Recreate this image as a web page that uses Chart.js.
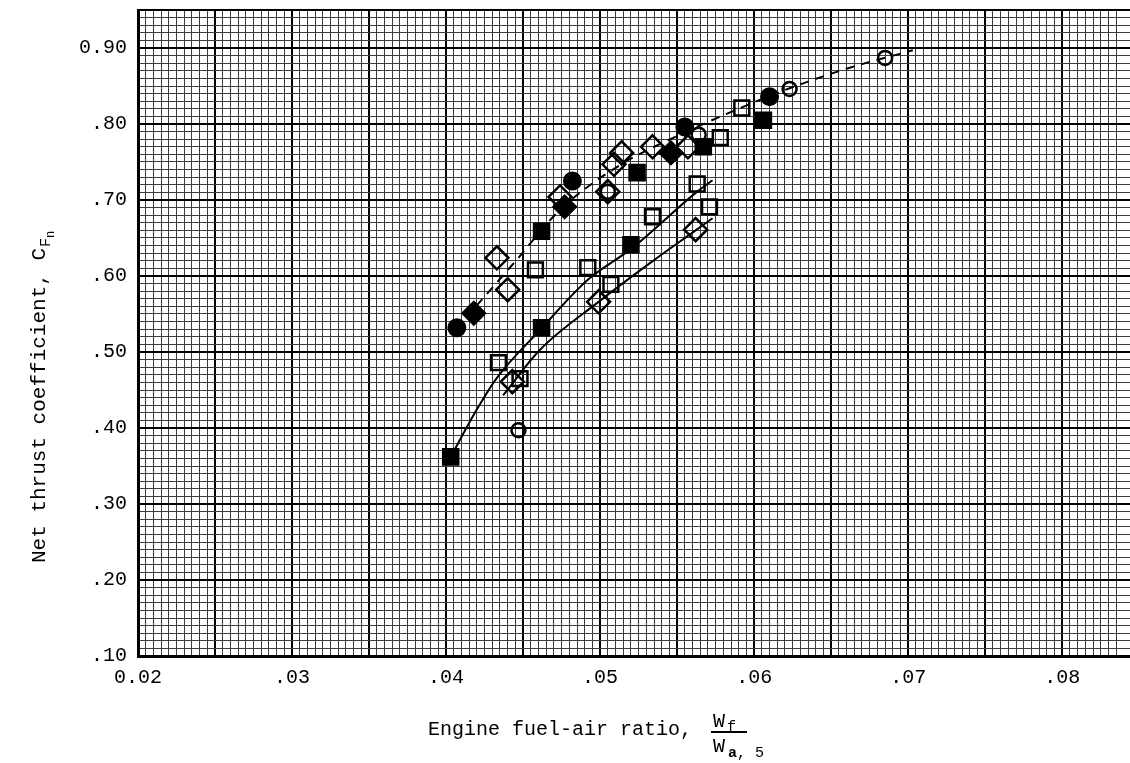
<!DOCTYPE html>
<html>
<head>
<meta charset="utf-8">
<script src="https://cdn.jsdelivr.net/npm/chart.js@4.4.0/dist/chart.umd.min.js"></script>
<style>
  html, body { margin: 0; padding: 0; background: #fff; }
</style>
</head>
<body>
<canvas id="thrust" width="1130" height="763"></canvas>
<script>
// graph paper limits
const xMin = 0.02, xMax = 0.0844;
const yMin = 0.10, yMax = 0.95;

// solid circles
const solidCircleX = [0.0407, 0.0482, 0.0555, 0.0610];
const solidCircleY = [0.532, 0.725, 0.796, 0.836];

// solid diamonds
const solidDiamondX = [0.0418, 0.0477, 0.0546];
const solidDiamondY = [0.551, 0.691, 0.762];

// solid squares
const solidSquareX = [0.0403, 0.0462, 0.0462, 0.0520, 0.0524, 0.0567, 0.0606];
const solidSquareY = [0.362, 0.532, 0.659, 0.641, 0.736, 0.770, 0.805];

// open squares
const openSquareX = [0.0434, 0.0448, 0.0458, 0.0492, 0.0507, 0.0534, 0.0563, 0.0571, 0.0578, 0.0592];
const openSquareY = [0.486, 0.465, 0.608, 0.611, 0.589, 0.678, 0.721, 0.691, 0.782, 0.821];

// open diamonds
const openDiamondX = [0.0433, 0.0440, 0.0443, 0.0474, 0.0499, 0.0505, 0.0509, 0.0514, 0.0534, 0.0557, 0.0562];
const openDiamondY = [0.624, 0.582, 0.461, 0.704, 0.566, 0.711, 0.747, 0.762, 0.770, 0.770, 0.661];

// open circles
const openCircleX = [0.0447, 0.0505, 0.0564, 0.0623, 0.0685];
const openCircleY = [0.397, 0.711, 0.786, 0.846, 0.887];

// faired curves
const upperCurveX = [0.0403, 0.0419, 0.0433, 0.0461, 0.0492, 0.0521, 0.0563, 0.0573];
const upperCurveY = [0.362, 0.421, 0.466, 0.529, 0.595, 0.637, 0.711, 0.726];
const lowerCurveX = [0.0437, 0.0461, 0.0499, 0.0533, 0.0562, 0.0573];
const lowerCurveY = [0.443, 0.503, 0.566, 0.618, 0.660, 0.676];
const dashCurveX = [0.0406, 0.0444, 0.0474, 0.0513, 0.0552, 0.0591, 0.0623, 0.0662, 0.0703];
const dashCurveY = [0.529, 0.617, 0.687, 0.746, 0.786, 0.821, 0.847, 0.874, 0.897];

const pts = (xs, ys) => xs.map((x, i) => ({ x: x, y: ys[i] }));

const font = '"Liberation Mono", "DejaVu Sans Mono", monospace';

const marker = (xs, ys, style, r, filled) => ({
  data: pts(xs, ys),
  showLine: false,
  pointStyle: style,
  pointRadius: r,
  pointHoverRadius: r,
  pointBorderWidth: filled ? 2 : 2.5,
  pointBorderColor: '#000',
  pointBackgroundColor: filled ? '#000' : 'rgba(0,0,0,0)'
});

const curve = (xs, ys, dash) => ({
  data: pts(xs, ys),
  showLine: true,
  pointRadius: 0,
  borderColor: '#000',
  borderWidth: 2,
  borderDash: dash,
  cubicInterpolationMode: 'monotone'
});

// axis titles (the x one has a stacked fraction)
const titles = {
  id: 'titles',
  afterDraw(chart) {
    const ctx = chart.ctx;
    ctx.save();
    ctx.fillStyle = '#000';
    ctx.textBaseline = 'alphabetic';
    ctx.textAlign = 'left';
    ctx.font = '20px ' + font;
    ctx.fillText('Engine fuel-air ratio,', 428, 735);
    ctx.fillText('W', 713, 727);
    ctx.fillText('W', 713, 752);
    ctx.font = '15px ' + font;
    ctx.fillText('f', 727, 731);
    ctx.font = 'bold 15px ' + font;
    ctx.fillText('a', 728, 757);
    ctx.font = '15px ' + font;
    ctx.fillText(', 5', 737, 757);
    ctx.fillRect(711, 731, 36, 2);

    ctx.translate(45, 563);
    ctx.rotate(-Math.PI / 2);
    ctx.font = '21px ' + font;
    ctx.fillText('Net thrust coefficient, C', 0, 0);
    ctx.font = '15px ' + font;
    ctx.fillText('F', 316, 5);
    ctx.font = '12px ' + font;
    ctx.fillText('n', 325, 9);
    ctx.restore();
  }
};

new Chart(document.getElementById('thrust'), {
  type: 'scatter',
  data: {
    datasets: [
      marker(solidCircleX, solidCircleY, 'circle', 8.5, true),
      marker(solidDiamondX, solidDiamondY, 'rectRot', 11.5, true),
      marker(solidSquareX, solidSquareY, 'rect', 11, true),
      marker(openSquareX, openSquareY, 'rect', 10.5, false),
      marker(openDiamondX, openDiamondY, 'rectRot', 11.5, false),
      marker(openCircleX, openCircleY, 'circle', 7, false),
      curve(upperCurveX, upperCurveY, []),
      curve(lowerCurveX, lowerCurveY, []),
      curve(dashCurveX, dashCurveY, [9, 7])
    ]
  },
  options: {
    responsive: false,
    animation: false,
    devicePixelRatio: 1,
    layout: { autoPadding: false, padding: { left: 0, right: 0, top: 10, bottom: 0 } },
    plugins: {
      legend: { display: false },
      tooltip: { enabled: false }
    },
    scales: {
      x: {
        type: 'linear',
        min: xMin,
        max: xMax,
        afterFit: (s) => { s.height = 107; s.paddingLeft = 0; s.paddingRight = 0; },
        border: { display: true, color: '#000', width: 3 },
        grid: {
          drawTicks: false,
          color: (c) => Math.round(c.tick.value * 20000) % 100 === 0 ? '#000' : '#3c3c3c',
          lineWidth: (c) => Math.round(c.tick.value * 20000) % 100 === 0 ? 2 : 1
        },
        ticks: {
          stepSize: 0.0005,
          autoSkip: false,
          maxRotation: 0,
          minRotation: 0,
          padding: 10,
          color: '#000',
          font: { family: font, size: 20 },
          callback: (v) => {
            const m = Math.round(v * 20000);
            if (m % 200 !== 0) return '';
            return m === 400 ? '0.02' : '.0' + (m / 200);
          }
        }
      },
      y: {
        type: 'linear',
        min: yMin,
        max: yMax,
        afterFit: (s) => { s.width = 138; s.paddingTop = 0; s.paddingBottom = 0; },
        border: { display: true, color: '#000', width: 3 },
        grid: {
          drawTicks: false,
          color: (c) => Math.round(c.tick.value * 100) % 10 === 0 || c.tick.value >= 0.949 ? '#000' : '#3c3c3c',
          lineWidth: (c) => Math.round(c.tick.value * 100) % 10 === 0 || c.tick.value >= 0.949 ? 2 : 1
        },
        ticks: {
          stepSize: 0.01,
          autoSkip: false,
          padding: 11,
          color: '#000',
          font: { family: font, size: 20 },
          callback: (v) => {
            const m = Math.round(v * 100);
            if (m % 10 !== 0) return '';
            return m === 90 ? '0.90' : '.' + m;
          }
        }
      }
    }
  },
  plugins: [titles]
});
</script>
</body>
</html>
